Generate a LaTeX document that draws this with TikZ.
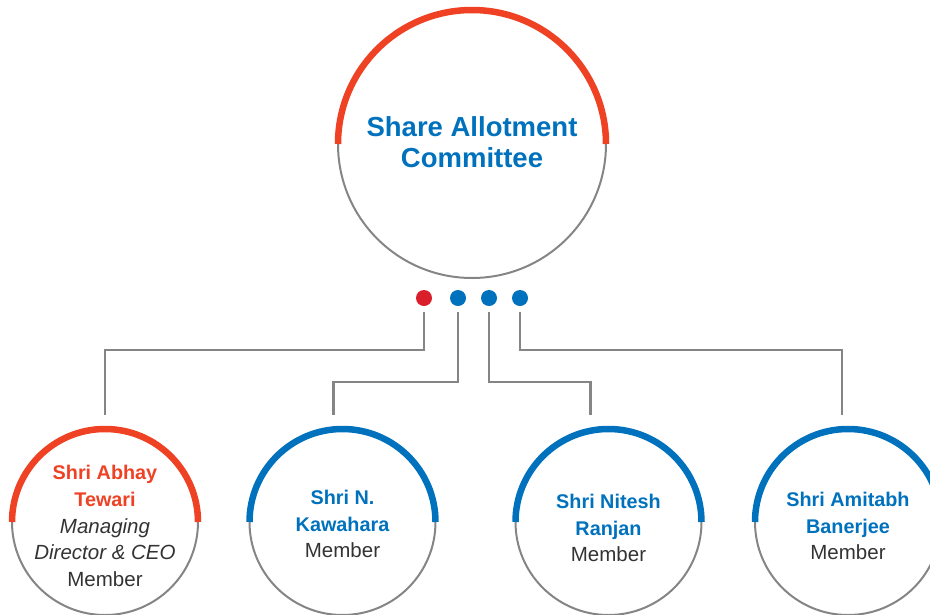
\documentclass[tikz,border=0pt]{standalone}
\usepackage{fontspec}
\setmainfont{Liberation Sans}
\definecolor{arcred}{HTML}{EF4123}
\definecolor{dotred}{HTML}{D91F2C}
\definecolor{mblue}{HTML}{0071BC}
\definecolor{lgrey}{HTML}{858585}
\definecolor{tgrey}{HTML}{333333}
\newcommand{\memfont}{\fontsize{19.8}{26.7}\selectfont}
\newcommand{\rolefont}{\fontsize{20.5}{26.7}\selectfont}
\tikzset{
  ring/.style={circle, inner sep=0pt, outer sep=0pt, minimum size=#1, draw=lgrey, line width=2pt},
  toparc/.style={draw=#1, line width=6.5pt},
  dotnode/.style={circle, inner sep=0pt, outer sep=0pt, minimum size=16pt, fill=#1},
  conn/.style={draw=lgrey, line width=2.5pt},
  memtext/.style={align=center, inner sep=0pt, font=\memfont}
}
\begin{document}
\begin{tikzpicture}[x=1pt,y=-1pt]
\useasboundingbox (0,0) rectangle (930,614);
% main circle
\node[ring=268pt] (sac) at (472,144) {};
\draw[toparc=arcred] (sac.west) arc[start angle=180, end angle=0, radius=134pt];
\node[align=center, text=mblue, font=\bfseries\fontsize{27.5}{30.5}\selectfont] (sact) at (472,142) {Share Allotment\\Committee};
% dots
\node[dotnode=dotred] (d1) at (424,298) {};
\node[dotnode=mblue] (d2) at (458,298) {};
\node[dotnode=mblue] (d3) at (489,298) {};
\node[dotnode=mblue] (d4) at (520,298) {};
% member circles
\node[ring=186pt] (m1) at (105,522) {};
\node[ring=186pt] (m2) at (342.5,522) {};
\node[ring=186pt] (m3) at (608.5,522) {};
\node[ring=186pt] (m4) at (848,522) {};
\draw[toparc=arcred] (m1.west) arc[start angle=180, end angle=0, radius=93pt];
\draw[toparc=mblue] (m2.west) arc[start angle=180, end angle=0, radius=93pt];
\draw[toparc=mblue] (m3.west) arc[start angle=180, end angle=0, radius=93pt];
\draw[toparc=mblue] (m4.west) arc[start angle=180, end angle=0, radius=93pt];
% texts
\node[memtext] (t1) at (105,526) {\bfseries\color{arcred}Shri Abhay\\\bfseries\color{arcred}Tewari\\\rolefont\mdseries\itshape\color{tgrey}Managing\\\rolefont\mdseries\itshape\color{tgrey}Director \& CEO\\\rolefont\upshape\mdseries\color{tgrey}Member};
\node[memtext] (t2) at (342.5,524) {\bfseries\color{mblue}Shri N.\\\bfseries\color{mblue}Kawahara\\\rolefont\mdseries\color{tgrey}Member};
\node[memtext] (t3) at (608.5,528) {\bfseries\color{mblue}Shri Nitesh\\\bfseries\color{mblue}Ranjan\\\rolefont\mdseries\color{tgrey}Member};
\node[memtext] (t4) at (848,526) {\bfseries\color{mblue}Shri Amitabh\\\bfseries\color{mblue}Banerjee\\\rolefont\mdseries\color{tgrey}Member};
% connectors
\draw[conn] ([yshift=-6pt]d1.south) -- (d1.south |- 0,350) -| ([yshift=14pt]m1.north);
\draw[conn] ([yshift=-6pt]d2.south) -- (d2.south |- 0,382) -| ([xshift=-9pt,yshift=14pt]m2.north);
\draw[conn] ([yshift=-6pt]d3.south) -- (d3.south |- 0,382) -| ([xshift=-18pt,yshift=14pt]m3.north);
\draw[conn] ([yshift=-6pt]d4.south) -- (d4.south |- 0,350) -| ([xshift=-6pt,yshift=14pt]m4.north);
\end{tikzpicture}
\end{document}
